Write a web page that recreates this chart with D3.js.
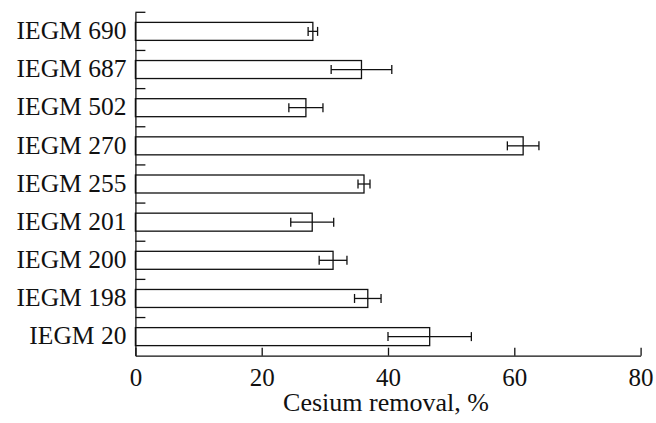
<!DOCTYPE html>
<html>
<head>
<meta charset="utf-8">
<script src="https://cdn.jsdelivr.net/npm/d3@7"></script>
<style>
  body { margin: 0; background: #fff; }
  svg { display: block; }
  text { font-family: "Liberation Serif", "DejaVu Serif", serif; fill: #111; }
</style>
</head>
<body>
<svg id="chart" width="656" height="423"></svg>
<script>
const strains = ["IEGM 690", "IEGM 687", "IEGM 502", "IEGM 270", "IEGM 255", "IEGM 201", "IEGM 200", "IEGM 198", "IEGM 20"];
const removal = [28.1, 35.8, 27.0, 61.4, 36.2, 28.0, 31.3, 36.8, 46.6];
const errors = [0.75, 4.8, 2.7, 2.5, 0.95, 3.4, 2.2, 2.1, 6.6];
const xTicks = [0, 20, 40, 60, 80];

const svg = d3.select("#chart");
const mLeft = 135.4, mRight = 640.6, mTop = 12.3, mBottom = 355.7;
const stroke = "#111";

const x = d3.scaleLinear().domain([0, 80]).range([mLeft, mRight]);
const y = d3.scaleBand().domain(strains).range([mTop, mBottom]);
const barH = 18;
const capH = 9;

// bars
svg.selectAll(".bar")
  .data(strains)
  .join("rect")
  .attr("class", "bar")
  .attr("x", x(0))
  .attr("y", d => y(d) + y.bandwidth() / 2 - barH / 2)
  .attr("width", (d, i) => x(removal[i]) - x(0))
  .attr("height", barH)
  .attr("fill", "#fff")
  .attr("stroke", stroke)
  .attr("stroke-width", 1.3);

// error bars
const err = svg.selectAll(".err")
  .data(strains)
  .join("g")
  .attr("class", "err")
  .attr("transform", d => `translate(0, ${y(d) + y.bandwidth() / 2})`)
  .attr("stroke", stroke)
  .attr("stroke-width", 1.3);

err.append("line")
  .attr("x1", (d, i) => x(removal[i] - errors[i]))
  .attr("x2", (d, i) => x(removal[i] + errors[i]));
err.append("line")
  .attr("x1", (d, i) => x(removal[i] - errors[i]))
  .attr("x2", (d, i) => x(removal[i] - errors[i]))
  .attr("y1", -capH / 2).attr("y2", capH / 2);
err.append("line")
  .attr("x1", (d, i) => x(removal[i] + errors[i]))
  .attr("x2", (d, i) => x(removal[i] + errors[i]))
  .attr("y1", -capH / 2).attr("y2", capH / 2);

// y axis with category labels
const yAxis = svg.append("g")
  .attr("transform", `translate(${mLeft}, 0)`)
  .call(d3.axisLeft(y).tickSize(0).tickSizeOuter(0).tickPadding(9));
yAxis.selectAll("text").attr("font-size", 25.5).attr("dy", "0.3em");
yAxis.select(".domain").attr("stroke", stroke).attr("stroke-width", 1.3);

// boundary ticks between categories
svg.append("g")
  .selectAll("line")
  .data(strains)
  .join("line")
  .attr("x1", mLeft).attr("x2", mLeft + 10)
  .attr("y1", d => y(d)).attr("y2", d => y(d))
  .attr("stroke", stroke)
  .attr("stroke-width", 1.3);

// x axis
const xAxis = svg.append("g")
  .attr("transform", `translate(0, ${mBottom})`)
  .call(d3.axisBottom(x).tickValues(xTicks).tickSize(-8).tickSizeOuter(0).tickPadding(13));
xAxis.selectAll("text").attr("font-size", 25);
xAxis.selectAll("line, .domain").attr("stroke", stroke).attr("stroke-width", 1.3);

svg.append("text")
  .attr("x", 386)
  .attr("y", 411)
  .attr("text-anchor", "middle")
  .attr("font-size", 26)
  .text("Cesium removal, %");
</script>
</body>
</html>
